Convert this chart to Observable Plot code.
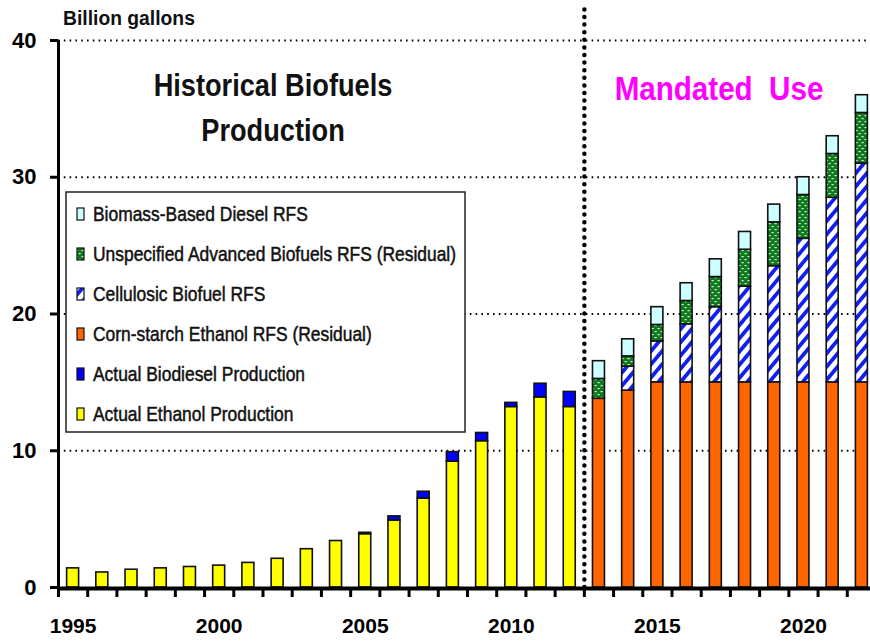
<!DOCTYPE html>
<html>
<head>
<meta charset="utf-8">
<script src="https://cdn.jsdelivr.net/npm/d3@7"></script>
<script src="https://cdn.jsdelivr.net/npm/@observablehq/plot@0.6"></script>
<style>
  html, body { margin: 0; padding: 0; background: #fff; }
  #chart svg { display: block; }
</style>
</head>
<body>
<div id="chart"></div>
<script>
// Historical production, billion gallons
const histYears = [1995, 1996, 1997, 1998, 1999, 2000, 2001, 2002, 2003, 2004, 2005, 2006, 2007, 2008, 2009, 2010, 2011, 2012];
const ethanolProduction = [1.4, 1.1, 1.3, 1.4, 1.5, 1.6, 1.8, 2.1, 2.8, 3.4, 3.9, 4.9, 6.5, 9.2, 10.7, 13.2, 13.9, 13.2];
const biodieselProduction = [0, 0, 0, 0, 0, 0, 0, 0, 0, 0, 0.1, 0.3, 0.5, 0.7, 0.6, 0.3, 1.0, 1.1];

// RFS mandated volumes, billion gallons
const rfsYears = [2013, 2014, 2015, 2016, 2017, 2018, 2019, 2020, 2021, 2022];
const cornStarchRFS = [13.8, 14.4, 15, 15, 15, 15, 15, 15, 15, 15];
const cellulosicRFS = [0, 1.75, 3.0, 4.25, 5.5, 7.0, 8.5, 10.5, 13.5, 16.0];
const unspecifiedAdvancedRFS = [1.45, 0.75, 1.2, 1.7, 2.2, 2.7, 3.2, 3.2, 3.2, 3.7];
const biomassDieselRFS = [1.3, 1.25, 1.3, 1.3, 1.3, 1.3, 1.3, 1.3, 1.3, 1.3];

// Series names, bottom of the stack first
const seriesNames = [
  "Actual Ethanol Production",
  "Actual Biodiesel Production",
  "Corn-starch Ethanol RFS (Residual)",
  "Cellulosic Biofuel RFS",
  "Unspecified Advanced Biofuels RFS (Residual)",
  "Biomass-Based Diesel RFS"
];
// Legend lists them top of the stack first
const legendOrder = [
  "Biomass-Based Diesel RFS",
  "Unspecified Advanced Biofuels RFS (Residual)",
  "Cellulosic Biofuel RFS",
  "Corn-starch Ethanol RFS (Residual)",
  "Actual Biodiesel Production",
  "Actual Ethanol Production"
];

const yTicks = [0, 10, 20, 30, 40];
const xLabelYears = [1995, 2000, 2005, 2010, 2015, 2020];

const seriesFill = {
  "Actual Ethanol Production": "#FFFF00",
  "Actual Biodiesel Production": "#0000FF",
  "Corn-starch Ethanol RFS (Residual)": "#FF6600",
  "Cellulosic Biofuel RFS": "url(#cellHatch)",
  "Unspecified Advanced Biofuels RFS (Residual)": "url(#advDots)",
  "Biomass-Based Diesel RFS": "#CCFFFF"
};

// Long table for stacking
const rows = [];
histYears.forEach((yr, i) => {
  rows.push({year: yr, series: seriesNames[0], value: ethanolProduction[i]});
  rows.push({year: yr, series: seriesNames[1], value: biodieselProduction[i]});
});
rfsYears.forEach((yr, i) => {
  rows.push({year: yr, series: seriesNames[2], value: cornStarchRFS[i]});
  rows.push({year: yr, series: seriesNames[3], value: cellulosicRFS[i]});
  rows.push({year: yr, series: seriesNames[4], value: unspecifiedAdvancedRFS[i]});
  rows.push({year: yr, series: seriesNames[5], value: biomassDieselRFS[i]});
});
const barRows = rows.filter(d => d.value > 0);

const allYears = histYears.concat(rfsYears);
const firstYear = allYears[0], lastYear = allYears[allYears.length - 1];
const yearEdges = d3.range(firstYear - 0.5, lastYear + 1, 1);
const divider = histYears[histYears.length - 1] + 0.5;
const halfBar = 0.205;

const FONT = '"Liberation Sans", Arial, sans-serif';

const chart = Plot.plot({
  width: 870,
  height: 642,
  marginLeft: 58,
  marginRight: 0,
  marginTop: 40,
  marginBottom: 55,
  style: {fontFamily: FONT, background: "#fff"},
  x: {type: "linear", domain: [firstYear - 0.5, lastYear + 0.5], range: [58, 876]},
  y: {domain: [0, 40], range: [587, 40]},
  color: {type: "identity"},
  marks: [
    // dotted gridlines
    Plot.ruleY(yTicks.filter(v => v > 0), {stroke: "#000", strokeWidth: 2, strokeDasharray: "1.6,4.2"}),
    // stacked bars
    Plot.rectY(barRows, Plot.stackY({
      x1: d => d.year - halfBar,
      x2: d => d.year + halfBar,
      y: "value",
      z: "series",
      order: seriesNames,
      fill: d => seriesFill[d.series],
      stroke: "#111",
      strokeWidth: 1.6
    })),
    // historical / mandated divider
    Plot.ruleX([divider], {y1: 0, y2: 42.6, stroke: "#000", strokeWidth: 4.5, strokeDasharray: "0,7.6", strokeLinecap: "round"}),
    // axis lines
    Plot.ruleX([firstYear - 0.5], {y1: 0, y2: 40, stroke: "#000", strokeWidth: 3}),
    Plot.ruleY([0], {stroke: "#000", strokeWidth: 4, dy: 1}),
    Plot.axisY({
      ticks: yTicks, tickSize: 8, tickPadding: 14, strokeWidth: 3,
      fontSize: 22, fontWeight: "bold", tickFormat: d => String(d), label: null
    }),
    Plot.axisX({
      ticks: yearEdges, tickSize: 10, strokeWidth: 3, tickFormat: () => "", label: null
    }),
    Plot.axisX({
      ticks: xLabelYears, tickSize: 0, tickPadding: 31,
      fontSize: 21, fontWeight: "bold", tickFormat: d => String(d), label: null
    })
  ]
});

const svg = d3.select(chart);

// fill patterns for the hatched series
const defs = svg.insert("defs", ":first-child");
const hatch = defs.append("pattern")
  .attr("id", "cellHatch").attr("patternUnits", "userSpaceOnUse")
  .attr("width", 8.5).attr("height", 8.5)
  .attr("patternTransform", "rotate(40)");
hatch.append("rect").attr("width", 8.5).attr("height", 8.5).attr("fill", "#fff");
hatch.append("rect").attr("width", 3.8).attr("height", 8.5).attr("fill", "#1020F0");

const dots = defs.append("pattern")
  .attr("id", "advDots").attr("patternUnits", "userSpaceOnUse")
  .attr("width", 6).attr("height", 6);
dots.append("rect").attr("width", 6).attr("height", 6).attr("fill", "#0E7A1E");
dots.append("rect").attr("x", 0.5).attr("y", 1).attr("width", 2.2).attr("height", 1.2).attr("fill", "#CFEFCF");
dots.append("rect").attr("x", 3.5).attr("y", 4).attr("width", 2.2).attr("height", 1.2).attr("fill", "#CFEFCF");

// condensed text: drawn at the origin, then shifted and squeezed horizontally
function label(parent, x, y, s, size, opts = {}) {
  const t = parent.append("text")
    .attr("transform", `translate(${x},${y}) scale(${opts.squeeze || 0.85},1)`)
    .attr("x", 0).attr("y", 0)
    .attr("font-family", FONT)
    .attr("font-size", size)
    .attr("font-weight", opts.weight || "bold")
    .attr("fill", opts.fill || "#111")
    .attr("text-anchor", opts.anchor || "start")
    .style("white-space", "pre")
    .text(s);
  if (opts.thicken) t.attr("stroke", opts.fill || "#111").attr("stroke-width", opts.thicken);
  return t;
}

label(svg, 63, 25, "Billion gallons", 21, {squeeze: 0.92});
label(svg, 273, 96, "Historical Biofuels", 32, {anchor: "middle", squeeze: 0.85});
label(svg, 273, 141, "Production", 32, {anchor: "middle", squeeze: 0.85});
label(svg, 719, 100, "Mandated  Use", 34, {anchor: "middle", fill: "#FF00FF", squeeze: 0.87});

// legend box
const lg = svg.append("g");
lg.append("rect").attr("x", 66).attr("y", 192).attr("width", 399).attr("height", 240)
  .attr("fill", "#fff").attr("stroke", "#222").attr("stroke-width", 1.5);
legendOrder.forEach((name, i) => {
  const base = 221 + i * 40;
  lg.append("rect").attr("x", 77).attr("y", base - 13).attr("width", 7).attr("height", 12)
    .attr("fill", seriesFill[name]).attr("stroke", "#111").attr("stroke-width", 1.2);
  label(lg, 93, base, name, 20.5, {weight: "normal", squeeze: 0.85, thicken: 0.5});
});

document.getElementById("chart").appendChild(chart);
</script>
</body>
</html>
